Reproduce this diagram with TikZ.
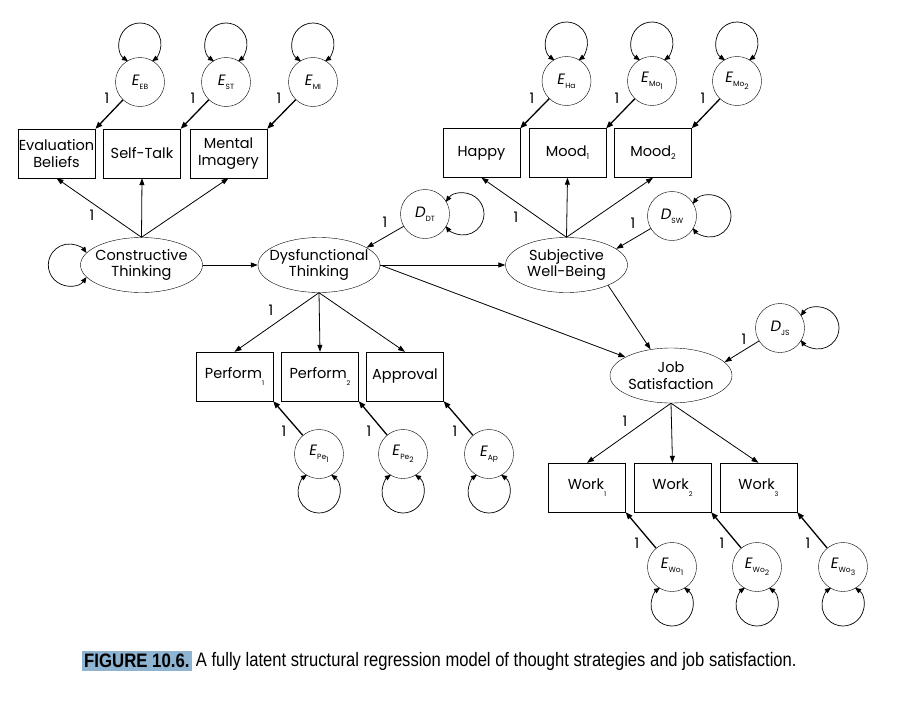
\documentclass[tikz,border=0pt]{standalone}
\usepackage{fontspec}
\setmainfont{Poppins}
\newfontfamily\capfont[FakeStretch=0.85]{Liberation Sans}
\newfontfamily\capboldfont[FakeStretch=0.86]{Liberation Sans}
\usepackage{tikz}
\usetikzlibrary{arrows.meta,shapes.geometric,positioning}
\definecolor{capblue}{RGB}{143,180,210}
\newcommand{\errsub}[2]{\textit{#1}\raisebox{-0.45ex}{\fontsize{7.5}{7.5}\selectfont #2}}
\newcommand{\subone}[1]{\raisebox{-0.4ex}{\fontsize{8}{8}\selectfont #1}}
\newcommand{\subtwo}[1]{\raisebox{-0.7ex}{\fontsize{7.5}{7.5}\selectfont #1}}
\newcommand{\lowsub}[1]{\raisebox{-0.9ex}{\fontsize{6.5}{6.5}\selectfont #1}}

\begin{document}
\begin{tikzpicture}[x=1pt,y=1pt]
	\useasboundingbox (0,0) rectangle (905,-704);
	\tikzstyle{indic}=[draw,rectangle,minimum width=77pt,minimum height=49pt,inner sep=1pt,align=center,font=\fontsize{14.5}{16.5}\selectfont]
	\tikzstyle{latent}=[draw,ellipse,minimum width=122pt,minimum height=55pt,inner xsep=-14pt,inner ysep=0pt,align=center,font=\fontsize{14.5}{16.5}\selectfont]
	\tikzstyle{err}=[draw,circle,minimum size=49pt,inner sep=0pt,font=\fontsize{15}{16}\selectfont]
	\tikzstyle{edge}=[-{Triangle[length=7pt,width=5pt]},line width=0.8pt]
	\tikzstyle{erredge}=[-{Triangle[length=7pt,width=5.5pt]},line width=1.3pt]
	\tikzstyle{varloop}=[{Triangle[length=6pt,width=5pt]}-{Triangle[length=6pt,width=5pt]},line width=0.7pt]
	\tikzstyle{one}=[inner sep=0pt,font=\fontsize{14.5}{16}\selectfont]
	
	% constructive thinking and its indicators
	\node[indic] (EB) at (56.5,-153.5) {Evaluation\\Beliefs};
	\node[indic] (ST) at (142,-153.5) {Self-Talk};
	\node[indic] (MI) at (228.5,-153.5) {Mental\\Imagery};
	\node[err] (EEB) at (140,-82) {\errsub{E}{EB}};
	\node[err] (EST) at (226,-82) {\errsub{E}{ST}};
	\node[err] (EMI) at (313,-82) {\errsub{E}{MI}};
	\node[latent] (CT) at (141.5,-265) {Constructive\\Thinking};
	
	% subjective well-being and its indicators
	\node[indic] (Ha) at (481.5,-153) {Happy};
	\node[indic] (Mo1) at (567.5,-153) {Mood\subone{1}};
	\node[indic] (Mo2) at (653,-153) {Mood\subone{2}};
	\node[err] (EHa) at (566.5,-81) {\errsub{E}{Ha}};
	\node[err] (EMo1) at (652,-81) {\errsub{E}{Mo\subtwo{1}}};
	\node[err] (EMo2) at (737,-81) {\errsub{E}{Mo\subtwo{2}}};
	\node[latent] (SWB) at (566.5,-265) {Subjective\\Well-Being};
	
	% dysfunctional thinking and its indicators
	\node[latent] (DT) at (319,-265) {Dysfunctional\\Thinking};
	\node[err] (DDT) at (425,-214) {\errsub{D}{DT}};
	\node[indic] (Pe1) at (234.5,-376.5) {Perform\lowsub{1}};
	\node[indic] (Pe2) at (320,-376.5) {Perform\lowsub{2}};
	\node[indic] (Ap) at (405,-376.5) {Approval};
	\node[err] (EPe1) at (319,-454) {\errsub{E}{Pe\subtwo{1}}};
	\node[err] (EPe2) at (403,-454) {\errsub{E}{Pe\subtwo{2}}};
	\node[err] (EAp) at (489,-454) {\errsub{E}{Ap}};
	\node[err] (DSW) at (672,-216) {\errsub{D}{SW}};
	
	% job satisfaction and its indicators
	\node[latent] (JS) at (671,-375.5) {Job\\Satisfaction};
	\node[err] (DJS) at (780,-328) {\errsub{D}{JS}};
	\node[indic] (Wo1) at (587,-487.5) {Work\lowsub{1}};
	\node[indic] (Wo2) at (672.5,-487.5) {Work\lowsub{2}};
	\node[indic] (Wo3) at (758.5,-487.5) {Work\lowsub{3}};
	\node[err] (EWo1) at (672,-567) {\errsub{E}{Wo\subtwo{1}}};
	\node[err] (EWo2) at (757,-567) {\errsub{E}{Wo\subtwo{2}}};
	\node[err] (EWo3) at (843,-567) {\errsub{E}{Wo\subtwo{3}}};
	
	% loadings
	\draw[edge](CT.north)--(EB.south);
	\draw[edge](CT.north)--(ST.south);
	\draw[edge](CT.north)--(MI.south);
	\draw[edge](SWB.north)--(Ha.south);
	\draw[edge](SWB.north)--(Mo1.south);
	\draw[edge](SWB.north)--(Mo2.south);
	\draw[edge](DT.south)--(Pe1.north);
	\draw[edge](DT.south)--(Pe2.north);
	\draw[edge](DT.south)--(Ap.north);
	\draw[edge](JS.south)--(Wo1.north);
	\draw[edge](JS.south)--(Wo2.north);
	\draw[edge](JS.south)--(Wo3.north);
	
	% structural paths
	\draw[edge](CT.east)--(DT.west);
	\draw[edge](DT.east)--(SWB.west);
	\draw[edge](DT.east)--(JS.158);
	\draw[edge](SWB.-26)--(JS.128);
	\draw[edge](DDT)--(DT.20);
	\draw[edge](DSW)--(SWB.18);
	\draw[edge](DJS)--(JS.14);
	
	% measurement errors
	\draw[erredge](EEB)--(EB.north east);
	\draw[erredge](EST)--(ST.north east);
	\draw[erredge](EMI)--(MI.north east);
	\draw[erredge](EHa)--(Ha.north east);
	\draw[erredge](EMo1)--(Mo1.north east);
	\draw[erredge](EMo2)--(Mo2.north east);
	\draw[erredge](EPe1)--(Pe1.south east);
	\draw[erredge](EPe2)--(Pe2.south east);
	\draw[erredge](EAp)--(Ap.south east);
	\draw[erredge](EWo1)--(Wo1.south east);
	\draw[erredge](EWo2)--(Wo2.south east);
	\draw[erredge](EWo3)--(Wo3.south east);
	
	% variances
	\draw[varloop] (EEB) ++(90:38) ++(235:21) arc[start angle=235,end angle=-55,radius=21];
	\draw[varloop] (EST) ++(90:38) ++(235:21) arc[start angle=235,end angle=-55,radius=21];
	\draw[varloop] (EMI) ++(90:38) ++(235:21) arc[start angle=235,end angle=-55,radius=21];
	\draw[varloop] (EHa) ++(90:38) ++(235:21) arc[start angle=235,end angle=-55,radius=21];
	\draw[varloop] (EMo1) ++(90:38) ++(235:21) arc[start angle=235,end angle=-55,radius=21];
	\draw[varloop] (EMo2) ++(90:38) ++(235:21) arc[start angle=235,end angle=-55,radius=21];
	\draw[varloop] (DDT) ++(0:38) ++(145:21) arc[start angle=145,end angle=-145,radius=21];
	\draw[varloop] (DSW) ++(0:38) ++(145:21) arc[start angle=145,end angle=-145,radius=21];
	\draw[varloop] (DJS) ++(0:38) ++(145:21) arc[start angle=145,end angle=-145,radius=21];
	\draw[varloop] (EPe1) ++(270:38) ++(55:21) arc[start angle=55,end angle=-235,radius=21];
	\draw[varloop] (EPe2) ++(270:38) ++(55:21) arc[start angle=55,end angle=-235,radius=21];
	\draw[varloop] (EAp) ++(270:38) ++(55:21) arc[start angle=55,end angle=-235,radius=21];
	\draw[varloop] (EWo1) ++(270:38) ++(55:21) arc[start angle=55,end angle=-235,radius=21];
	\draw[varloop] (EWo2) ++(270:38) ++(55:21) arc[start angle=55,end angle=-235,radius=21];
	\draw[varloop] (EWo3) ++(270:38) ++(55:21) arc[start angle=55,end angle=-235,radius=21];
	\draw[varloop] ([xshift=-11pt]CT.west) ++(325:21) arc[start angle=325,end angle=35,radius=21];
	
	% fixed loadings
	\node[one] (o1) at (107,-98) {1};
	\node[one] (o2) at (193,-98) {1};
	\node[one] (o3) at (279,-98) {1};
	\node[one] (o4) at (532,-98) {1};
	\node[one] (o5) at (617,-98) {1};
	\node[one] (o6) at (703,-98) {1};
	\node[one] (o7) at (92,-215) {1};
	\node[one] (o8) at (385,-222) {1};
	\node[one] (o9) at (516,-217) {1};
	\node[one] (o10) at (633,-223) {1};
	\node[one] (o11) at (271,-310) {1};
	\node[one] (o12) at (744,-339) {1};
	\node[one] (o13) at (625,-421) {1};
	\node[one] (o14) at (284,-431) {1};
	\node[one] (o15) at (369,-431) {1};
	\node[one] (o16) at (455,-431) {1};
	\node[one] (o17) at (637,-543) {1};
	\node[one] (o18) at (722,-543) {1};
	\node[one] (o19) at (808,-543) {1};
	
	% caption
	\node[fill=capblue,inner xsep=2pt,inner ysep=3pt,anchor=west,font=\capboldfont\bfseries\fontsize{19.5}{21}\selectfont] (figno) at (82,-661) {FIGURE 10.6.};
	\node[right=4pt of figno,inner sep=0pt,font=\capfont\fontsize{19.5}{21}\selectfont] (captxt) {A fully latent structural regression model of thought strategies and job satisfaction.};
\end{tikzpicture}
\end{document}
